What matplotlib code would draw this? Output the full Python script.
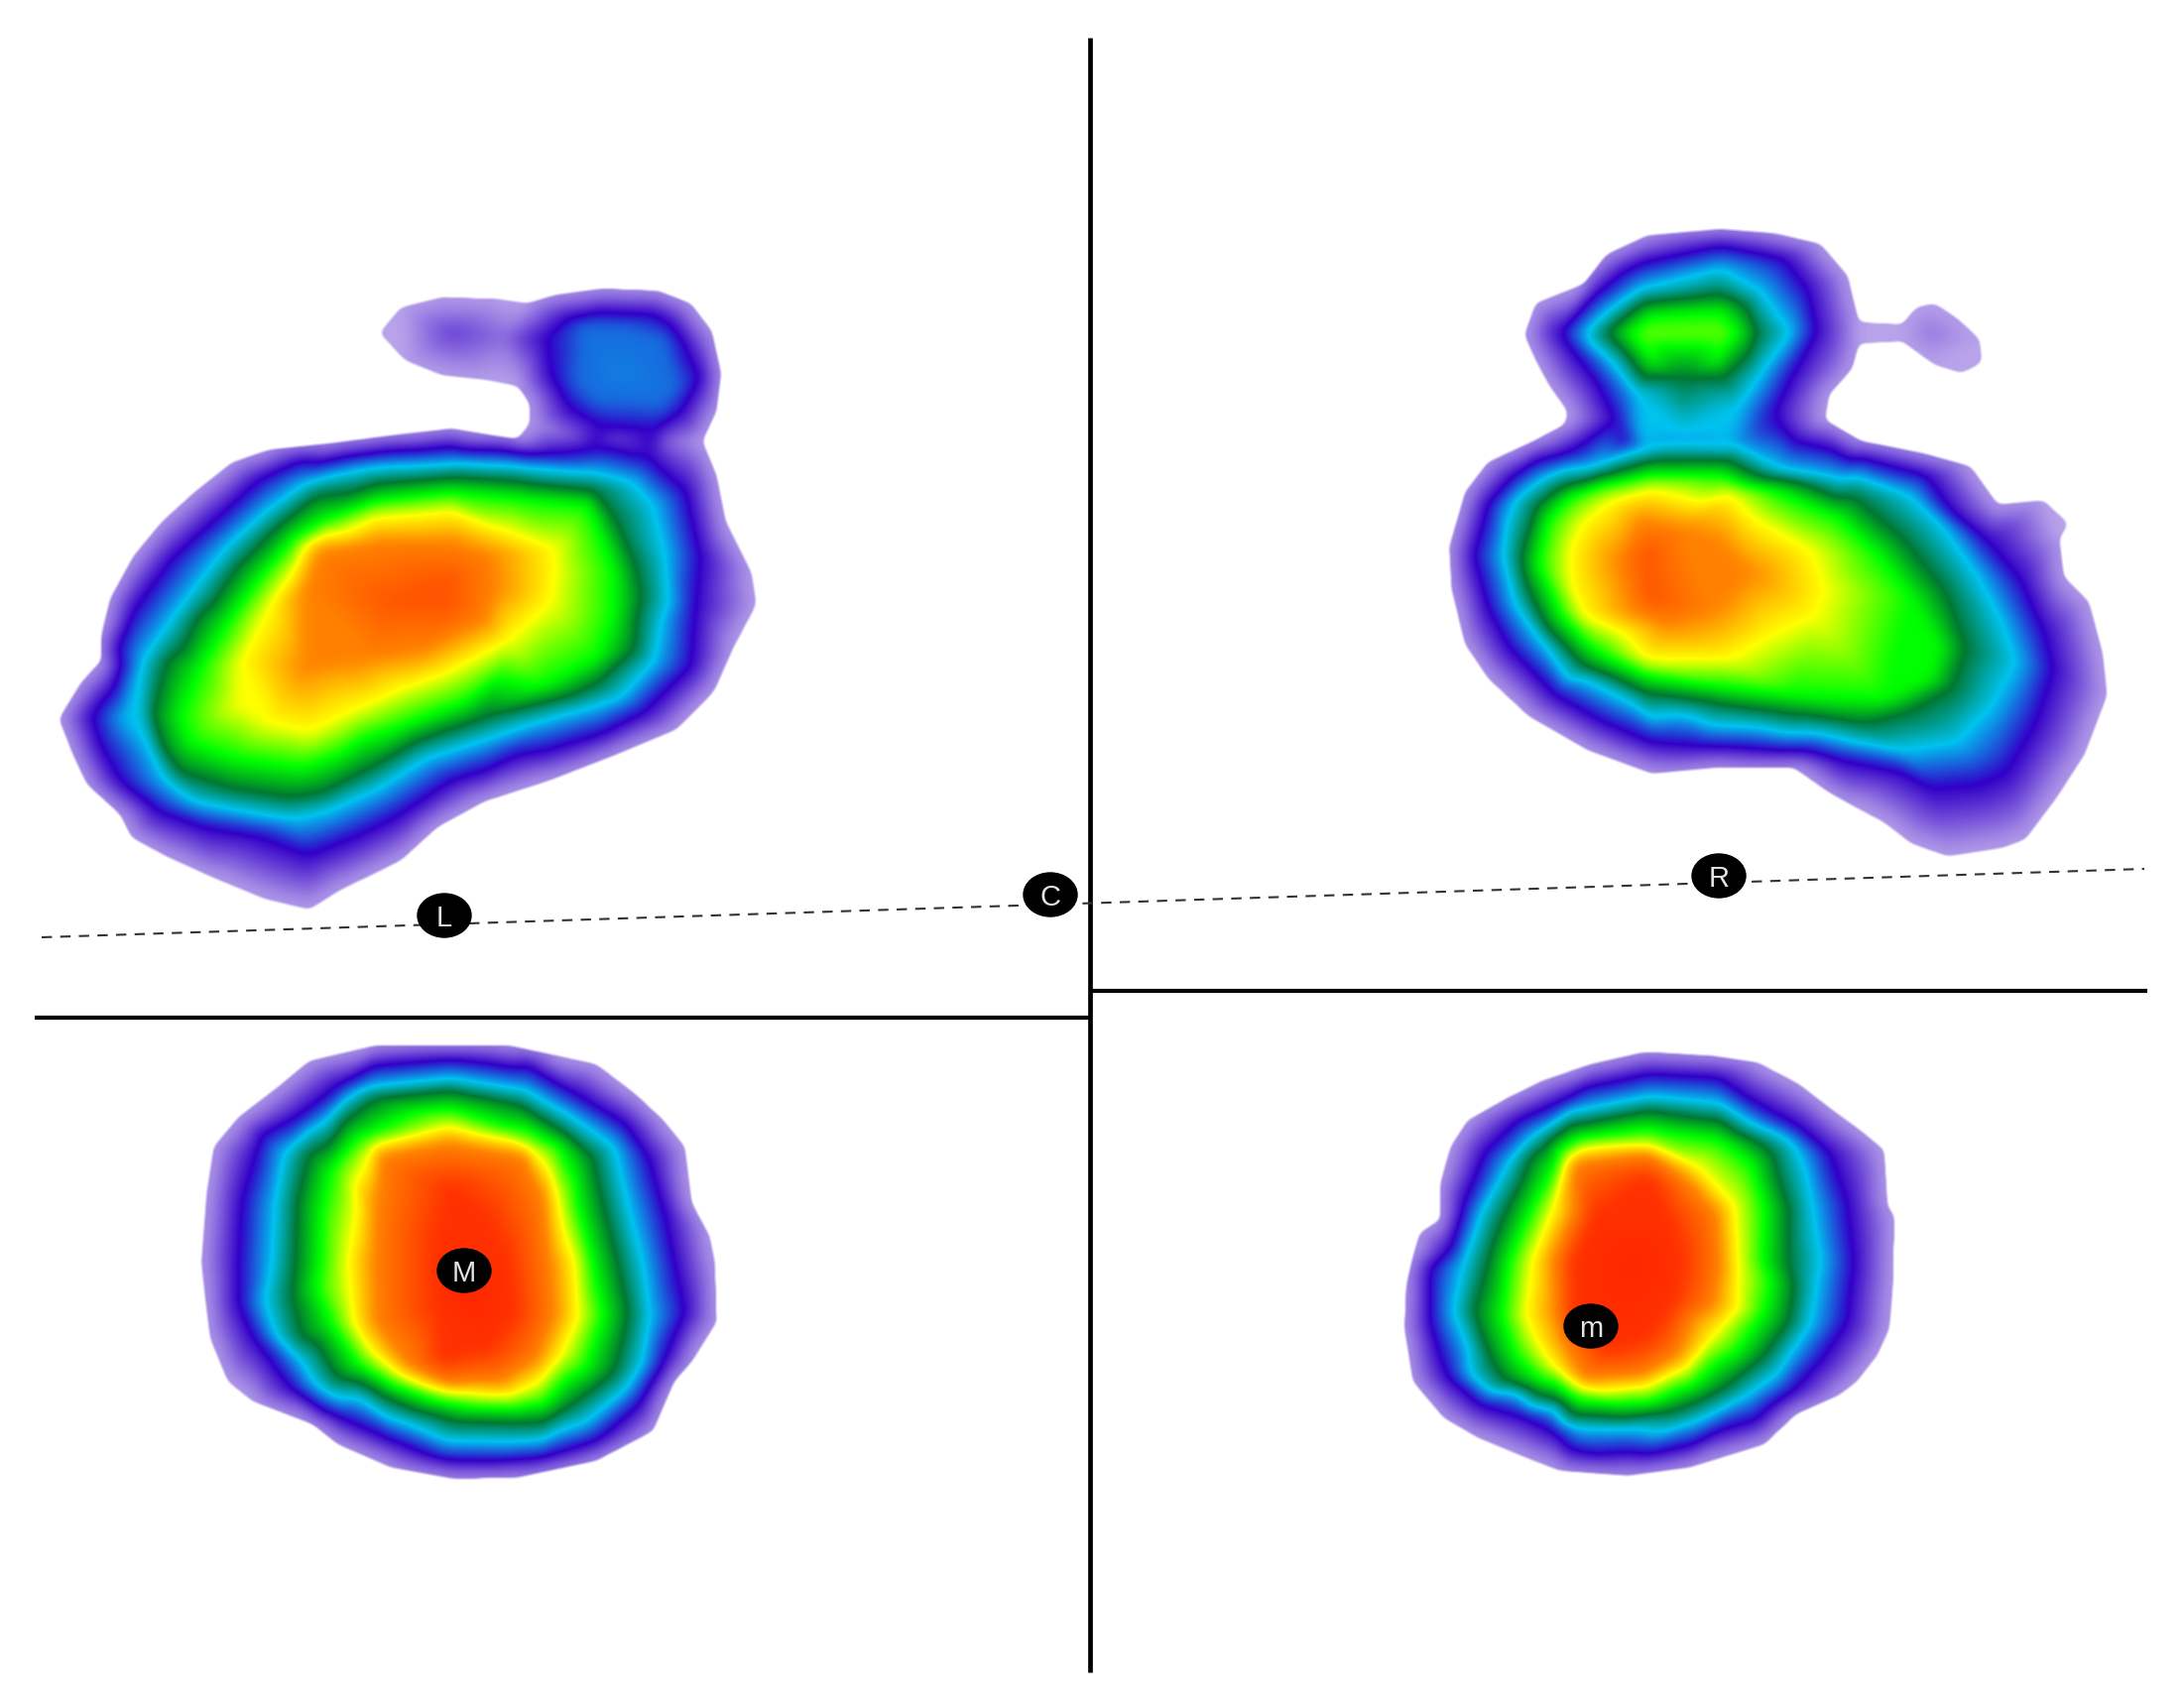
from matplotlib import pyplot as plt
from matplotlib.colors import LinearSegmentedColormap
from matplotlib.patches import Ellipse
from matplotlib.path import Path
from matplotlib.tri import Triangulation, LinearTriInterpolator
import numpy as np

# pressure scale: level -> colour
level_stops = [0, 1, 2, 3, 4, 5, 6, 7]
level_colors = ["#b8a2ea", "#3200c8", "#00c3f0", "#007832", "#00ff00", "#ffff00", "#ff8200", "#ff2800"]

# left foot, points (origin 40,270)
l_crop = (40, 270, 2.119, 2.34)
l_0 = [(725,155),(770,95),(860,70),(980,75),(1040,85),(1100,65),(1200,50),(1320,55),(1390,85),(1435,150),(1455,250),(1445,340),(1415,410),(1445,490),(1465,600),(1520,720),(1530,795),(1480,900),(1440,1000),(1360,1090),(1230,1150),(1090,1210),(950,1260),(850,1320),(770,1400),(640,1470),(575,1515),(480,1490),(370,1440),(270,1390),(195,1345),(170,1290),(100,1220),(70,1150),(40,1065),(90,975),(130,930),(130,870),(150,780),(200,680),(260,600),(330,530),(410,460),(490,430),(620,415),(760,395),(880,380),(960,395),(1020,405),(1045,370),(1045,320),(1020,280),(950,265),(860,255),(780,220)]
l_1 = [(110,1060),(165,900),(200,810),(280,690),(380,590),(470,500),(560,455),(700,440),(900,430),(1100,440),(1180,430),(1300,450),(1380,530),(1410,680),(1400,800),(1390,940),(1290,1050),(1200,1100),(1020,1150),(880,1210),(770,1290),(680,1340),(575,1385),(460,1340),(350,1320),(250,1280),(170,1210),(130,1130)]
l_2 = [(185,1060),(220,930),(270,850),(330,760),(400,660),(480,580),(570,510),(700,475),(880,465),(1050,475),(1180,485),(1270,510),(1310,560),(1335,680),(1325,840),(1310,930),(1200,1030),(1070,1070),(960,1110),(820,1160),(720,1230),(620,1280),(540,1300),(420,1280),(330,1260),(270,1210),(235,1130),(215,1060)]
l_3 = [(240,1060),(270,930),(340,820),(420,710),(500,620),(590,540),(720,510),(880,495),(1030,505),(1180,525),(1230,600),(1270,700),(1285,780),(1270,900),(1190,980),(1060,1030),(950,1060),(800,1120),(690,1190),(600,1240),(530,1250),(410,1230),(300,1190),(260,1130)]
l_4 = [(300,1060),(340,950),(400,840),(470,730),(540,640),(620,590),(720,550),(880,530),(1030,545),(1170,560),(1200,640),(1225,720),(1225,820),(1190,920),(1070,990),(900,1030),(780,1080),(640,1150),(560,1180),(420,1160),(320,1120)]
l_5 = [(425,1030),(430,930),(490,800),(540,720),(565,660),(640,630),(720,590),(880,575),(990,620),(1100,665),(1100,720),(1090,790),(1000,880),(860,960),(780,990),(680,1040),(575,1095),(490,1075)]
l_6 = [(570,940),(570,760),(600,670),(720,650),(880,650),(960,680),(970,760),(950,830),(820,900),(700,920)]
l_peak = [(870,740),(870,800),(760,790)]
l_toe_1 = [(1080,170),(1130,120),(1200,105),(1310,110),(1375,180),(1410,260),(1370,340),(1310,385),(1200,375),(1130,330),(1090,250)]
l_toe_15 = [(1160,140),(1240,140),(1330,170),(1360,280),(1330,325),(1190,315),(1150,270)]
l_toe_peak = [(1240,250)]
l_small_toe = [(880,155)]
l_small_neck = [(990,165)]
l_saddle_a = [(1230,405)]
l_saddle_b = [(1130,395),(1340,410)]

# right foot (origin 1440,210)
r_crop = (1440, 210, 2.178, 2.34)
r_0 = [(210,300),(235,225),(340,180),(390,110),(480,65),(640,50),(760,60),(860,85),(920,160),(945,270),(1040,275),(1070,235),(1110,225),(1160,260),(1210,310),(1215,365),(1170,390),(1110,370),(1040,315),(945,320),(930,380),(880,440),(870,500),(950,550),(1090,580),(1190,610),(1250,700),(1350,690),(1405,745),(1385,780),(1395,870),(1450,930),(1480,1050),(1490,1150),(1440,1290),(1380,1390),(1310,1490),(1260,1510),(1140,1530),(1060,1500),(1000,1450),(930,1410),(880,1380),(800,1320),(640,1320),(490,1335),(350,1280),(220,1200),(130,1110),(80,1030),(50,900),(45,800),(80,670),(130,600),(230,550),(300,510),(305,480),(265,420),(235,360)]
r_1 = [(290,295),(360,210),(470,130),(640,90),(780,120),(830,190),(850,290),(800,390),(760,480),(770,510),(800,550),(950,590),(1090,630),(1150,720),(1230,790),(1300,880),(1350,1000),(1370,1090),(1330,1220),(1270,1330),(1210,1360),(1110,1370),(1040,1330),(900,1300),(760,1280),(600,1270),(490,1260),(380,1210),(280,1150),(180,1040),(130,940),(100,820),(130,700),(190,630),(300,580),(430,550),(410,500),(370,410),(320,340)]
r_toe_2 = [(345,295),(400,240),(470,190),(640,145),(730,200),(795,295),(730,390),(680,470),(650,530),(560,530),(470,530),(460,440),(410,370)]
r_toe_3 = [(390,295),(470,225),(640,205),(720,295),(650,400),(560,400),(470,400)]
r_toe_4 = [(440,295),(490,255),(640,245),(680,295),(630,360),(490,360)]
r_toe_peak = [(480,295),(640,295)]
r_neck = [(520,552),(600,552),(680,552)]
r_small_toe = [(1105,295)]
r_2 = [(480,575),(640,570),(780,620),(900,640),(1060,680),(1120,740),(1200,860),(1260,980),(1290,1070),(1240,1170),(1160,1260),(1040,1280),(860,1240),(720,1225),(560,1195),(450,1170),(340,1110),(240,1010),(190,930),(165,820),(190,690),(250,640),(370,610)]
r_3 = [(480,600),(640,595),(780,640),(930,680),(1040,780),(1130,900),(1180,1040),(1150,1130),(1050,1190),(950,1215),(800,1195),(640,1170),(480,1145),(340,1080),(260,990),(215,890),(210,800),(240,700),(300,655),(390,630)]
r_4 = [(480,630),(640,630),(770,670),(900,730),(990,820),(1060,920),(1120,1040),(1100,1110),(1000,1160),(800,1150),(640,1130),(480,1105),(360,1040),(290,960),(240,840),(260,740),(310,680),(390,650)]
r_5 = [(310,810),(340,740),(400,690),(490,665),(660,675),(710,730),(840,810),(870,900),(850,960),(750,1010),(660,1065),(480,1065),(430,1005),(340,960),(315,900)]
r_6 = [(420,830),(470,740),(560,760),(640,790),(700,860),(620,950),(520,980),(450,950)]
r_peak = [(480,820),(490,920)]

# M print (origin 190,1040)
m_crop = (190, 1040, 2.8, 3.0)
m_0 = [(35,700),(50,490),(70,350),(140,260),(250,170),(340,90),(520,45),(910,45),(1020,70),(1150,100),(1260,190),(1340,270),(1400,350),(1420,520),(1470,620),(1485,700),(1490,880),(1420,1000),(1370,1060),(1310,1210),(1150,1300),(930,1350),(750,1355),(570,1320),(420,1250),(350,1190),(180,1120),(110,1060),(60,930),(45,800)]
m_1 = [(140,700),(150,520),(190,370),(320,250),(430,160),(520,105),(740,85),(950,100),(1090,190),(1230,280),(1300,390),(1340,540),(1370,700),(1400,850),(1340,1000),(1270,1130),(1150,1240),(1000,1290),(850,1300),(700,1290),(560,1230),(430,1170),(290,1080),(180,920),(140,820)]
m_2 = [(235,700),(245,520),(270,370),(390,270),(520,170),(740,145),(950,180),(1080,260),(1200,350),(1240,530),(1280,700),(1300,870),(1280,1000),(1180,1130),(950,1240),(730,1240),(600,1180),(480,1110),(320,1000),(230,870)]
m_3 = [(300,700),(305,520),(340,370),(440,270),(530,200),(740,180),(930,220),(1050,300),(1140,380),(1170,530),(1210,700),(1240,850),(1200,1030),(1080,1130),(950,1185),(750,1180),(560,1110),(420,1050),(320,930),(290,800)]
m_4 = [(370,700),(375,540),(400,420),(510,310),(740,235),(900,290),(1040,340),(1100,530),(1140,700),(1170,860),(1120,1020),(1000,1130),(750,1130),(600,1080),(480,1010),(400,880),(360,780)]
m_5 = [(450,700),(475,540),(515,370),(740,290),(970,365),(1040,510),(1090,700),(1100,860),(1050,980),(940,1085),(740,1090),(600,1040),(510,960),(460,820)]
m_6 = [(525,700),(530,520),(540,380),(740,340),(950,380),(1000,500),(1020,700),(1030,860),(980,990),(880,1060),(740,1070),(620,1010),(530,880)]
m_7 = [(740,480),(840,560),(900,700),(920,850),(840,960),(720,990),(700,830),(700,650)]
m_peak = [(780,800)]

# m print (origin 1400,1040)
s_crop = (1400, 1040, 2.904, 3.0)
s_0 = [(45,900),(50,770),(70,680),(90,610),(150,570),(150,460),(180,350),(230,270),(350,200),(450,150),(590,100),(740,65),(790,65),(950,75),(1080,95),(1200,160),(1300,240),(1380,300),(1450,360),(1460,530),(1480,560),(1475,780),(1465,900),(1430,980),(1370,1060),(1320,1100),(1190,1160),(1100,1250),(880,1320),(700,1345),(500,1330),(400,1290),(260,1230),(160,1170),(70,1060)]
s_1 = [(120,880),(120,720),(180,660),(220,520),(280,370),(380,270),(530,200),(760,130),(960,140),(1060,210),(1200,290),(1290,370),(1340,520),(1360,700),(1340,880),(1260,1000),(1180,1090),(960,1210),(760,1280),(600,1280),(480,1210),(400,1170),(270,1130),(170,1040),(140,950)]
s_2 = [(190,850),(220,700),(270,550),(350,400),(420,320),(560,240),(760,200),(970,220),(1060,280),(1190,350),(1240,530),(1250,780),(1230,890),(1170,980),(1050,1100),(900,1180),(700,1200),(560,1200),(480,1140),(360,1090),(240,1040),(230,950)]
s_3 = [(250,850),(290,700),(350,530),(420,370),(540,280),(760,240),(970,270),(1090,340),(1150,480),(1170,700),(1170,880),(1100,980),(980,1080),(830,1150),(700,1170),(540,1165),(480,1110),(340,1060),(300,990),(270,920)]
s_4 = [(330,860),(350,700),(420,530),(490,400),(570,320),(780,300),(970,330),(1060,400),(1100,530),(1120,760),(1100,850),(1020,970),(890,1070),(740,1130),(560,1120),(450,1060),(370,980)]
s_5 = [(400,860),(420,690),(480,540),(530,385),(760,350),(900,410),(1010,530),(1020,700),(1020,780),(950,920),(840,1030),(750,1075),(560,1075),(480,1010),(430,930)]
s_6 = [(490,850),(520,600),(545,400),(760,370),(880,460),(960,560),(970,700),(950,820),(840,980),(740,1040),(570,1050),(520,950)]
s_7 = [(540,880),(540,700),(600,560),(760,450),(820,560),(860,700),(830,820),(750,930),(640,960)]
s_peak = [(720,700)]

# markers and lines
label_names = ["L", "C", "R", "M", "m"]
label_x = [448, 1059, 1733, 468, 1604]
label_y = [923, 902, 883, 1281, 1337]
baseline_x = [42, 2162]
baseline_y = [945, 876]


def blur(a, sigma):
    k = np.exp(-0.5 * (np.arange(-int(3 * sigma), int(3 * sigma) + 1) / sigma) ** 2)
    k = k / k.sum()
    a = np.apply_along_axis(lambda v: np.convolve(v, k, mode="same"), 0, a)
    return np.apply_along_axis(lambda v: np.convolve(v, k, mode="same"), 1, a)


def draw_blob(ax, crop, pieces):
    # pieces = list of (level, points); first piece is the outer edge
    ox, oy, fx, fy = crop
    xs, ys, zs = [], [], []
    for z, pts in pieces:
        for px, py in pts:
            xs.append(ox + px / fx)
            ys.append(oy + py / fy)
            zs.append(z)
    xs = np.array(xs)
    ys = np.array(ys)
    zs = np.array(zs, dtype=float)
    tri = Triangulation(xs, ys)
    # drop the triangles that fall outside of the print
    n_edge = len(pieces[0][1])
    edge = Path(np.column_stack([xs[:n_edge], ys[:n_edge]]))
    centers = np.column_stack([xs[tri.triangles].mean(axis=1), ys[tri.triangles].mean(axis=1)])
    tri.set_mask(~edge.contains_points(centers))

    x0, x1 = int(xs.min()) - 25, int(xs.max()) + 25
    y0, y1 = int(ys.min()) - 25, int(ys.max()) + 25
    gx, gy = np.meshgrid(np.arange(x0, x1 + 1), np.arange(y0, y1 + 1))
    field = LinearTriInterpolator(tri, zs)(gx.astype(float), gy.astype(float))
    inside = (~np.ma.getmaskarray(field)).astype(float)
    values = field.filled(0.0)
    # soften the creases of the triangles, the original is a blurry raster
    smooth = blur(values * inside, 6) / np.maximum(blur(inside, 6), 1e-3)
    alpha = np.clip((blur(inside, 4) - 0.5) * 3.5 + 0.5, 0, 1)
    rgba = cmap(np.clip(smooth, 0, 7) / 7)
    rgba[..., 3] = alpha
    ax.imshow(rgba, extent=(x0 - 0.5, x1 + 0.5, y1 + 0.5, y0 - 0.5), aspect="auto", interpolation="nearest")


cmap = LinearSegmentedColormap.from_list("pressure", [(s / 7, c) for s, c in zip(level_stops, level_colors)], N=1024)

fig = plt.figure(figsize=(22.02, 17.19), dpi=100)
ax = fig.add_axes([0, 0, 1, 1])

draw_blob(ax, l_crop, [(0, l_0), (1, l_1), (2, l_2), (3, l_3), (4, l_4), (5, l_5), (6, l_6), (6.5, l_peak),
                       (1, l_toe_1), (1.55, l_toe_15), (1.65, l_toe_peak),
                       (0.6, l_small_toe), (0.35, l_small_neck), (0.6, l_saddle_a), (0.4, l_saddle_b)])
draw_blob(ax, r_crop, [(0, r_0), (1, r_1), (2, r_toe_2), (3, r_toe_3), (4, r_toe_4), (4.4, r_toe_peak),
                       (1.75, r_neck), (0.25, r_small_toe), (2, r_2), (3, r_3), (4, r_4), (5, r_5), (6, r_6), (6.5, r_peak)])
draw_blob(ax, m_crop, [(0, m_0), (1, m_1), (2, m_2), (3, m_3), (4, m_4), (5, m_5), (6, m_6), (6.9, m_7), (7, m_peak)])
draw_blob(ax, s_crop, [(0, s_0), (1, s_1), (2, s_2), (3, s_3), (4, s_4), (5, s_5), (6, s_6), (6.9, s_7), (7, s_peak)])

ax.set_xlim(0, 2202)
ax.set_ylim(1719, 0)
ax.axis("off")

# cross lines
ax.plot([1099, 1099], [38, 1686], color="black", lw=3.4, solid_capstyle="butt")
ax.plot([35, 1099], [1026, 1026], color="black", lw=3.0, solid_capstyle="butt")
ax.plot([1099, 2165], [999, 999], color="black", lw=3.0, solid_capstyle="butt")
ax.plot(baseline_x, baseline_y, color="#333333", lw=1.5, dashes=(5, 4))

for name, x, y in zip(label_names, label_x, label_y):
    ax.add_patch(Ellipse((x, y), 54, 44, color="black", zorder=5))
    ax.text(x, y, name, color="#e4e4e4", fontsize=21, family="Liberation Sans",
            ha="center", va="center_baseline", zorder=6)

fig.savefig("out.png", dpi=100, facecolor="white")
